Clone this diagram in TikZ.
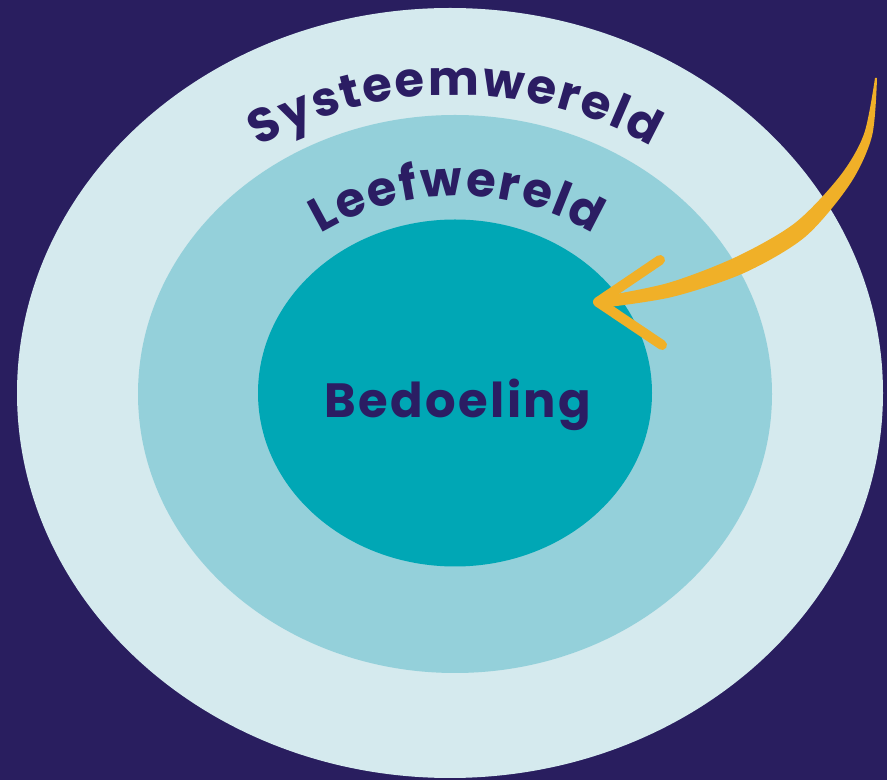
\documentclass[tikz,border=0pt]{standalone}
\usepackage{fontspec}
\setmainfont{Poppins}
\newfontfamily\ringfamily{Poppins}[LetterSpace=5]
\usetikzlibrary{shapes.geometric, decorations.text}
\definecolor{nightblue}{HTML}{291E5F}
\definecolor{outerring}{HTML}{D5EAEE}
\definecolor{midring}{HTML}{94D0DA}
\definecolor{innerring}{HTML}{00A7B5}
\definecolor{ink}{HTML}{2B1D63}
\definecolor{gold}{HTML}{F0B028}
\newcommand{\px}{0.03cm}
\newcommand{\ringfont}{\ringfamily\fontsize{41}{44}\selectfont\bfseries}
\tikzset{
	ring/.style={ellipse, inner sep=0pt, draw=none},
	bigtext/.style={font=\ringfont, text=ink, inner sep=0pt},
	arclabel/.style={decorate, decoration={text effects along path, text={#1}, text align=center,
		text effects/.cd, text along path, characters={text=ink, font=\ringfont, inner sep=0pt},
		character widths={font=\ringfont, inner xsep=0.9pt}}},
	brush/.style={gold, line width=10*\px, line cap=round},
}
\begin{document}
\begin{tikzpicture}[x=0.03cm, y=0.03cm]
	
	\fill[nightblue] (0,0) rectangle (887,780);
	
	\node[ring, fill=outerring, minimum width=866*\px, minimum height=770*\px] (systeem) at (450,387) {};
	\node[ring, fill=midring, minimum width=634*\px, minimum height=558*\px] (leef) at (455,386) {};
	\node[ring, fill=innerring, minimum width=394*\px, minimum height=347*\px] (kern) at (455,387) {};
	\node[bigtext] (bedoeling) at (458,375) {Bedoeling};
	
	% labels along the rings
	\coordinate (sysmid) at (455,285);
	\coordinate (leefmid) at (457,318);
	\path[arclabel=Systeemwereld]
		([shift={(150:400)}]sysmid) arc[start angle=150, end angle=30, radius=400];
	\path[arclabel=Leefwereld]
		([shift={(155:266)}]leefmid) arc[start angle=155, end angle=25, radius=266];
	
	% brush arrow
	\coordinate (tip) at (598,478);
	\fill[gold] plot[smooth] coordinates {(877,702) (872,644) (850,596) (805,543) (744,507) (672,483) (601,472)}
		-- plot[smooth] coordinates {(599,483) (668,497) (736,523) (795,557) (840,604) (864,646) (875,702)} -- cycle;
	\draw[brush] (tip) -- ++(62,42);
	\draw[brush] (tip) -- ++(64,-43);
\end{tikzpicture}
\end{document}
